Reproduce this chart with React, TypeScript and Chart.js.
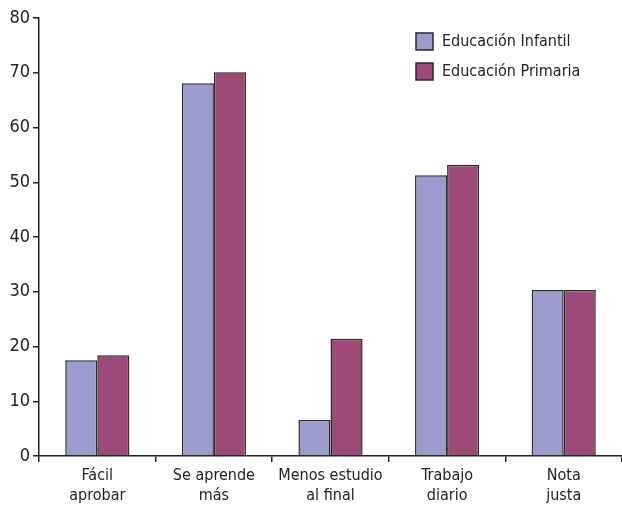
import React, { useEffect, useRef } from "react";
import { Chart, registerables } from "chart.js";

Chart.register(...registerables);

const categories: string[][] = [
  ["Fácil", "aprobar"],
  ["Se aprende", "más"],
  ["Menos estudio", "al final"],
  ["Trabajo", "diario"],
  ["Nota", "justa"],
];
const seriesNames = ["Educación Infantil", "Educación Primaria"];
const infantil = [17.5, 68.1, 6.6, 51.3, 30.3];
const primaria = [18.4, 70.1, 21.4, 53.2, 30.3];
const yTicks = [0, 10, 20, 30, 40, 50, 60, 70, 80];

const colors = ["#9b9ccd", "#9e4a79"];
const FONT = "'Liberation Sans Narrow', 'DejaVu Sans Condensed', 'Roboto', sans-serif";

const legendPlugin = {
  id: "boxLegend",
  afterDraw(chart: any) {
    const ctx = chart.ctx;
    const area = chart.chartArea;
    const x0 = area.right - 206;
    let y0 = area.top + 15;
    ctx.save();
    chart.data.datasets.forEach((ds: any) => {
      ctx.fillStyle = ds.backgroundColor;
      ctx.fillRect(x0, y0, 17, 17);
      ctx.lineWidth = 1.5;
      ctx.strokeStyle = "#2a2a2a";
      ctx.strokeRect(x0, y0, 17, 17);
      ctx.fillStyle = "#222";
      ctx.font = `16px ${FONT}`;
      ctx.textBaseline = "middle";
      ctx.textAlign = "left";
      ctx.fillText(ds.label, x0 + 26, y0 + 9);
      y0 += 30;
    });
    ctx.restore();
  },
};

export default function App() {
  const ref = useRef<HTMLCanvasElement>(null);
  useEffect(() => {
    document.body.style.margin = "0";
    const chart = new Chart(ref.current!, {
      type: "bar",
      data: {
        labels: categories,
        datasets: [
          {
            label: seriesNames[0],
            data: infantil,
            backgroundColor: colors[0],
            borderColor: "#2a2a2a",
            borderWidth: 1.5,
          },
          {
            label: seriesNames[1],
            data: primaria,
            backgroundColor: colors[1],
            borderColor: "#2a2a2a",
            borderWidth: 1.5,
          },
        ],
      },
      options: {
        responsive: false,
        animation: false,
        layout: { padding: { top: 18, right: 0, left: 0, bottom: 0 } },
        plugins: { legend: { display: false }, tooltip: { enabled: false } },
        datasets: { bar: { barPercentage: 1, categoryPercentage: 0.55 } },
        scales: {
          x: {
            grid: {
              offset: true,
              drawOnChartArea: false,
              drawTicks: true,
              tickLength: 6,
              color: "#222",
              lineWidth: 1.5,
            },
            border: { display: true, color: "#222", width: 1.5 },
            ticks: {
              color: "#222",
              font: { family: FONT, size: 16, lineHeight: 1.25 },
              padding: 4,
              maxRotation: 0,
              autoSkip: false,
            },
            afterFit(scale: any) {
              scale.height = 50;
            },
          },
          y: {
            min: 0,
            max: 80,
            afterBuildTicks(scale: any) {
              scale.ticks = yTicks.map((v) => ({ value: v }));
            },
            grid: {
              drawOnChartArea: false,
              drawTicks: true,
              tickLength: 6,
              color: "#222",
              lineWidth: 1.5,
            },
            border: { display: true, color: "#222", width: 1.5 },
            ticks: {
              color: "#222",
              font: { family: FONT, size: 18 },
              padding: 3,
            },
            afterFit(scale: any) {
              scale.width = 39;
            },
          },
        },
      },
      plugins: [legendPlugin],
    });
    return () => chart.destroy();
  }, []);
  return <canvas ref={ref} width={622} height={506} style={{ display: "block" }} />;
}
